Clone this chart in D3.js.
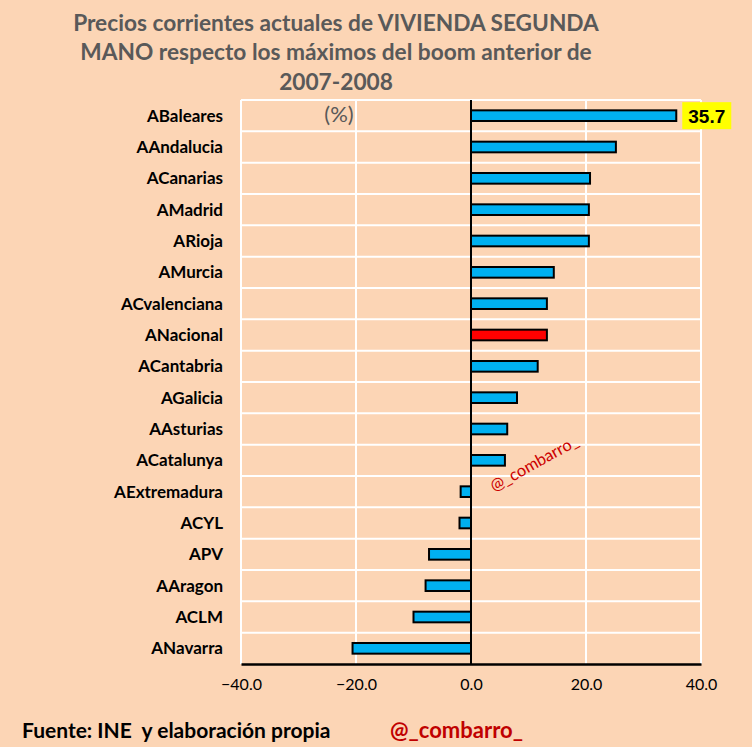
<!DOCTYPE html>
<html>
<head>
<meta charset="utf-8">
<script src="https://cdn.jsdelivr.net/npm/d3@7"></script>
<style>
  body { margin: 0; background: #fcd5b5; }
  svg { display: block; }
</style>
</head>
<body>
<script>
var categories = ["ABaleares", "AAndalucia", "ACanarias", "AMadrid", "ARioja", "AMurcia",
    "ACvalenciana", "ANacional", "ACantabria", "AGalicia", "AAsturias", "ACatalunya",
    "AExtremadura", "ACYL", "APV", "AAragon", "ACLM", "ANavarra"];
var values = [35.7, 25.2, 20.7, 20.5, 20.5, 14.4, 13.2, 13.2, 11.6, 8.0, 6.3, 5.9,
    -1.8, -2.0, -7.3, -7.9, -10.0, -20.6];
var xTicks = [-40, -20, 0, 20, 40];
var titleLines = ["Precios corrientes actuales de VIVIENDA SEGUNDA",
    "MANO respecto los máximos del boom anterior de",
    "2007-2008"];

var width = 752;
var height = 747;
var margin = ({ top: 100, right: 51, bottom: 83, left: 241 });
var font = "Lato, 'Noto Sans', sans-serif";

var data = categories.map((c, i) => ({ key: c, value: values[i] }));

let svg = d3.select('body').append('svg')
    .attr('width', width)
    .attr('height', height);

svg.append("rect")
    .attr("width", width)
    .attr("height", height)
    .attr("fill", "#fcd5b5");

var x = d3.scaleLinear()
    .domain([-40, 40])
    .range([margin.left, width - margin.right]);

var y = d3.scaleBand()
    .domain(categories)
    .range([margin.top, height - margin.bottom]);

// rejilla blanca
var grid = svg.append("g")
    .attr("stroke", "#fff")
    .attr("stroke-width", 2);

grid.selectAll("line.h")
    .data(categories)
    .enter()
    .append("line")
    .attr("x1", x(-40))
    .attr("x2", x(40))
    .attr("y1", d => y(d))
    .attr("y2", d => y(d));

grid.selectAll("line.v")
    .data(xTicks.filter(d => d !== 0))
    .enter()
    .append("line")
    .attr("x1", d => x(d))
    .attr("x2", d => x(d))
    .attr("y1", y.range()[0])
    .attr("y2", y.range()[1]);

// barras
var barH = y.bandwidth() * 0.34;
svg.append("g")
    .attr("stroke", "#000")
    .attr("stroke-width", 2)
    .selectAll("rect")
    .data(data)
    .enter()
    .append("rect")
    .attr("x", d => x(Math.min(0, d.value)))
    .attr("y", d => y(d.key) + (y.bandwidth() - barH) / 2)
    .attr("width", d => Math.abs(x(d.value) - x(0)))
    .attr("height", barH)
    .attr("fill", d => d.key === "ANacional" ? "#ff0000" : "#00b0f0");

// eje cero
svg.append("line")
    .attr("x1", x(0))
    .attr("x2", x(0))
    .attr("y1", y.range()[0])
    .attr("y2", y.range()[1])
    .attr("stroke", "#000")
    .attr("stroke-width", 2);

// eje x
var xAxis = g => g
    .attr("transform", `translate(0,${height - margin.bottom})`)
    .call(d3.axisBottom(x)
        .tickValues(xTicks)
        .tickFormat(d3.format(".1f"))
        .tickSize(0)
        .tickPadding(15))
    .call(g => g.select(".domain").attr("stroke", "#000").attr("stroke-width", 2.5))
    .call(g => g.selectAll("text")
        .attr("font-family", font)
        .attr("font-size", 16)
        .attr("fill", "#000"));

svg.append("g")
    .call(xAxis);

// etiquetas de categorías
svg.append("g")
    .selectAll("text")
    .data(categories)
    .enter()
    .append("text")
    .attr("x", margin.left - 18)
    .attr("y", d => y(d) + y.bandwidth() / 2)
    .attr("dy", "0.35em")
    .attr("text-anchor", "end")
    .attr("font-family", font)
    .attr("font-weight", "bold")
    .attr("font-size", 17)
    .attr("fill", "#000")
    .text(d => d);

// etiqueta del máximo
var top1 = data[0];
var lbl = svg.append("g")
    .attr("transform", `translate(${x(top1.value) + 6},${y(top1.key) + y.bandwidth() / 2})`);
lbl.append("rect")
    .attr("x", 0)
    .attr("y", -13.5)
    .attr("width", 49)
    .attr("height", 27)
    .attr("fill", "#ffff00");
lbl.append("text")
    .attr("x", 24.5)
    .attr("dy", "0.36em")
    .attr("text-anchor", "middle")
    .attr("font-family", "'Liberation Sans', Arial, sans-serif")
    .attr("font-weight", "bold")
    .attr("font-size", 19)
    .text(d3.format(".1f")(top1.value));

// título
svg.append("g")
    .selectAll("text")
    .data(titleLines)
    .enter()
    .append("text")
    .attr("x", 336)
    .attr("y", (d, i) => [31, 60, 90][i])
    .attr("text-anchor", "middle")
    .attr("font-family", font)
    .attr("font-weight", "bold")
    .attr("font-size", 22.7)
    .attr("fill", "#595959")
    .text(d => d);

svg.append("text")
    .attr("x", 339)
    .attr("y", 122)
    .attr("text-anchor", "middle")
    .attr("font-family", font)
    .attr("font-size", 22)
    .attr("fill", "#595959")
    .text("(%)");

// marca de agua
svg.append("text")
    .attr("transform", "translate(494,492) rotate(-29)")
    .attr("font-family", font)
    .attr("font-size", 16.5)
    .attr("fill", "#cc0000")
    .text("@_combarro_");

// pie
svg.append("text")
    .attr("x", 22)
    .attr("y", 738)
    .attr("font-family", font)
    .attr("font-weight", "bold")
    .attr("font-size", 21)
    .attr("fill", "#000")
    .style("white-space", "pre")
    .text("Fuente: INE  y elaboración propia");

svg.append("text")
    .attr("x", 390)
    .attr("y", 738)
    .attr("font-family", font)
    .attr("font-weight", "bold")
    .attr("font-size", 22)
    .attr("fill", "#c00000")
    .text("@_combarro_");
</script>
</body>
</html>
